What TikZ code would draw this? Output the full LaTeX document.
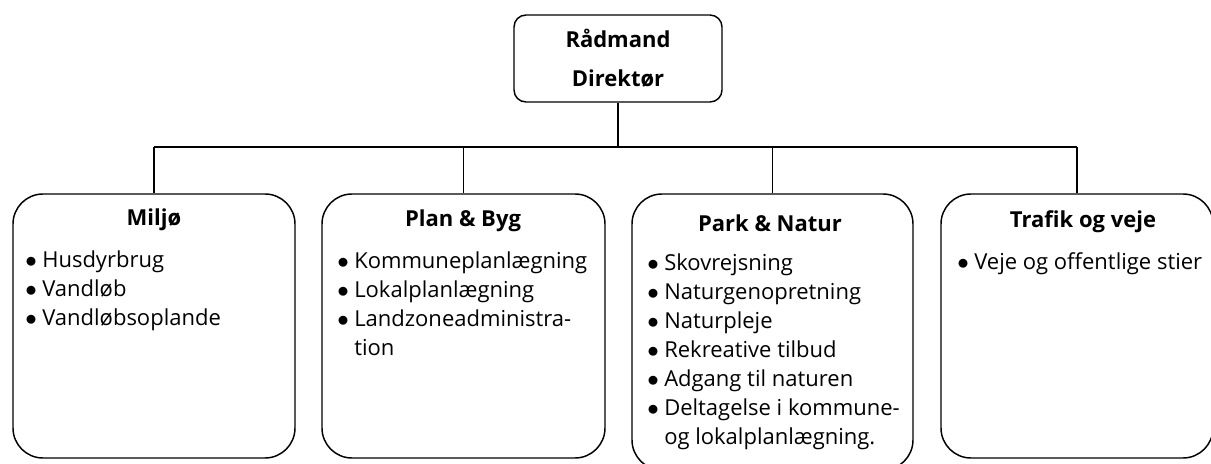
\documentclass[tikz,border=0pt]{standalone}
\usepackage{fontspec}
\setmainfont{Open Sans}
\usetikzlibrary{positioning}

% bullet with fixed room after it
\newcommand{\itm}{\makebox[12.75pt][l]{$\bullet$}}

\begin{document}
\fontsize{16.5}{20}\selectfont
\begin{tikzpicture}[x=0.75pt, y=-0.75pt,
  box/.style={draw, line width=1.1pt, rounded corners=22.5pt, minimum height=198pt, inner sep=0pt},
  topbox/.style={draw, line width=1.1pt, rounded corners=9pt, minimum width=156pt,
    minimum height=65.25pt, align=center, inner sep=0pt,
    font=\fontsize{16.5}{29}\selectfont\bfseries},
  title/.style={font=\bfseries, inner sep=0pt},
  item/.style={anchor=base west, inner sep=0pt},
  wire/.style={line width=1.1pt}]
  \useasboundingbox (0,0) rectangle (1211,464);
  % Top box
  \node[topbox] (raadmand) at (618,58.5) {Rådmand\\Direktør};
  % Departments
  \node[box, minimum width=211.5pt] (miljo) at (154,326) {};
  \node[box, minimum width=212.25pt] (plan) at (463.5,326) {};
  \node[box, minimum width=210.75pt, minimum height=207pt] (park) at (772.5,332) {};
  \node[box, minimum width=204pt] (trafik) at (1077,326) {};
  % Lines
  \coordinate (bus) at (617,147);
  \draw[wire] (raadmand.south) -- (raadmand.south |- bus);
  \draw[wire] (miljo.north |- bus) -- (trafik.north |- bus);
  \foreach \n in {miljo,plan,park,trafik}
    \draw[wire] (\n.north |- bus) -- (\n.north);
  % Titles
  \node[title] (miljoTitle) at (154,220) {Miljø};
  \node[title] (planTitle) at (463,221) {Plan \& Byg};
  \node[title] (parkTitle) at (770,223) {Park \& Natur};
  \node[title] (trafikTitle) at (1083,222) {Trafik og veje};
  % Items
  \foreach \txt [count=\i from 0] in {\itm Husdyrbrug, \itm Vandløb, \itm Vandløbsoplande}
    \node[item] (miljo-\i) at (25,267+29*\i) {\txt};
  \foreach \txt [count=\i from 0] in {\itm Kommuneplanlægning, \itm Lokalplanlægning,
      \itm Landzoneadministra-, \hspace*{12.75pt}tion}
    \node[item] (plan-\i) at (337,268+29*\i) {\txt};
  \foreach \txt [count=\i from 0] in {\itm Skovrejsning, \itm Naturgenopretning, \itm Naturpleje,
      \itm Rekreative tilbud, \itm Adgang til naturen, \itm Deltagelse i kommune-,
      \hspace*{12.75pt}og lokalplanlægning.}
    \node[item] (park-\i) at (647,270+29*\i) {\txt};
  \node[item] (trafik-0) at (957,269) {\itm Veje og offentlige stier};
\end{tikzpicture}
\end{document}
